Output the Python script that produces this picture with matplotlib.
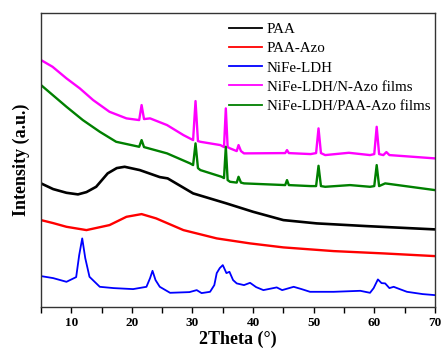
import numpy as np
import matplotlib
matplotlib.use('Agg')
import matplotlib.pyplot as plt
from matplotlib.ticker import MultipleLocator

plt.rcParams['font.family'] = ['Liberation Serif', 'DejaVu Serif']

# ---------------------------------------------------------------------
# XRD patterns (intensity in arbitrary units, offset stacked)
# ---------------------------------------------------------------------
labels = ['PAA', 'PAA-Azo', 'NiFe-LDH', 'NiFe-LDH/N-Azo films', 'NiFe-LDH/PAA-Azo films']
colors = ['black', 'red', 'blue', 'magenta', 'green']

paa_tt = [5, 7, 9.2, 11.1, 12.5, 14.1, 16.0, 17.5, 18.8, 21.3, 24.6, 25.9, 30.1, 35.6, 40, 45, 50.5, 58.7, 70]
paa_int = [123.7, 118, 114.3, 112.7, 115, 120.3, 133.7, 139, 140.3, 137, 130, 128.7, 113.7, 103.7, 95.3, 87, 83.7, 81, 77.7]

azo_tt = [5, 7, 9.2, 12.5, 16.3, 19.1, 21.6, 24, 28.5, 34, 39.5, 45, 53.3, 61.5, 70]
azo_int = [87, 84, 80.3, 77, 82, 90.3, 93, 88.7, 77, 68.7, 63.7, 59.7, 56, 53.7, 51]

ldh_tt = [5.0, 7.0, 9.2, 10.8, 11.3, 11.8, 12.3, 13.0, 14.7, 17, 20.2, 22.4, 23.0, 23.4, 23.9, 24.6,
          26.3, 29.5, 30.7, 31.5, 32.9, 33.6, 34.0, 34.5, 35.0, 35.6, 36.1, 36.7, 37.3, 38.5, 39.5,
          40.5, 41.7, 43.9, 44.8, 46.7, 48, 49.4, 53.3, 57.7, 59.3, 59.9, 60.6, 61.2, 61.8, 62.5,
          63.2, 64.2, 65.4, 68, 70]
ldh_int = [31, 29, 25.3, 30, 52, 68.7, 49, 30.3, 20.3, 19, 18, 20.3, 29, 36.3, 27, 20.3,
           14.3, 15, 17, 14, 15.3, 22, 34, 39, 42, 34, 35.3, 27, 23.7, 22, 24.3,
           20, 17, 19.7, 17, 20.3, 18, 15.3, 15.3, 16.3, 14.3, 19, 27.7, 24, 23.7, 19,
           20.3, 18, 15.3, 13, 12]

nazo_tt = [5, 6.9, 9.2, 11.4, 13.6, 16.3, 19.1, 21.2, 21.6, 22.0, 23, 25.8, 28.5, 30.1, 30.5, 30.9,
           31.3, 34.6, 35.2, 35.5, 35.8, 36.2, 37.3, 37.6, 38.0, 38.5, 45.3, 45.6, 45.9, 49.5, 50.4,
           50.8, 51.2, 51.9, 55.8, 59.3, 60.0, 60.4, 60.8, 61.5, 62, 62.5, 70]
nazo_int = [247, 240.3, 228.7, 218.7, 207, 195.3, 188.7, 187, 202, 188, 188.7, 182, 172, 167, 206, 166,
            165.3, 162, 160, 198.7, 160, 158.7, 156, 162, 156, 153.7, 154, 157, 154, 153, 154,
            178.7, 154, 152, 154.3, 152, 153, 180.3, 153, 152, 155, 152, 148.7]

pazo_tt = [5, 9.2, 11.9, 14.7, 17.4, 21.2, 21.6, 22.0, 25.8, 29.6, 30.1, 30.5, 30.9, 31.3, 34.8, 35.2,
           35.5, 35.8, 36.2, 37.3, 37.6, 38.0, 38.5, 45.3, 45.6, 45.9, 49.5, 50.4, 50.8, 51.2, 51.9,
           56, 59.3, 60.0, 60.4, 60.8, 61.8, 70]
pazo_int = [222, 200.3, 187, 175.3, 165.3, 160.3, 167, 160, 153.7, 143.7, 142, 163.7, 139, 137, 130.3, 129,
            160.3, 127, 125.3, 124.5, 130.3, 124.5, 123.7, 122, 127, 122, 121, 121, 141.3, 121, 120.3,
            122, 120.3, 121, 142, 121, 123.7, 117]

series = [(paa_tt, paa_int), (azo_tt, azo_int), (ldh_tt, ldh_int), (nazo_tt, nazo_int), (pazo_tt, pazo_int)]
widths = [1.9, 1.7, 1.3, 1.7, 1.7]

fig = plt.figure(figsize=(4.43, 3.53), dpi=100)
ax = fig.add_axes([0.0926, 0.130, 0.889, 0.833])

for (tt, inten), lab, c, lw in zip(series, labels, colors, widths):
    ax.plot(tt, inten, color=c, lw=lw, label=lab)

ax.set_xlim(5, 70)
ax.set_ylim(0, 294)
ax.set_yticks([])
ax.xaxis.set_major_locator(MultipleLocator(10))
ax.xaxis.set_minor_locator(MultipleLocator(5))
ax.tick_params(axis='x', which='major', direction='out', length=4, width=1, labelsize=9.5, pad=3)
ax.tick_params(axis='x', which='minor', direction='out', length=4, width=1)
for t in ax.get_xticklabels():
    t.set_fontweight('bold')
for s in ax.spines.values():
    s.set_linewidth(1.0)
    s.set_color('#333333')

ax.set_xlabel('2Theta (\u00b0)', fontsize=13, fontweight='bold', labelpad=1)
ax.set_ylabel('Intensity (a.u.)', fontsize=13, fontweight='bold', labelpad=8)

leg = ax.legend(loc='upper right', bbox_to_anchor=(1.008, 0.993), frameon=False, fontsize=10.8,
                handlelength=2.2, handletextpad=0.3, labelspacing=0.38, borderaxespad=0.1)
for l in leg.get_lines():
    l.set_linewidth(1.3)

fig.savefig('out.png', dpi=100)
